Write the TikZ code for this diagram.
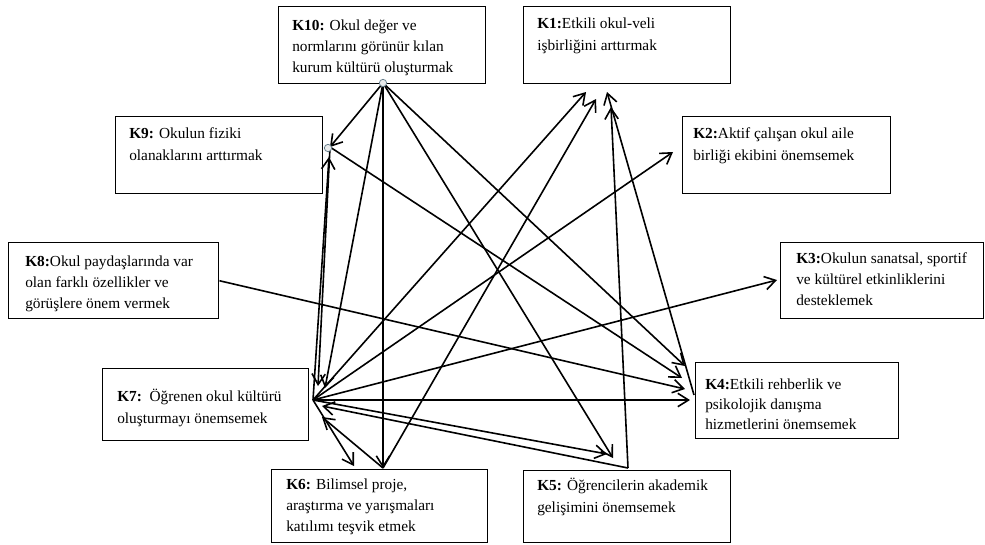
\documentclass[tikz,border=0pt]{standalone}
\usepackage{fontspec}
\setmainfont{Liberation Serif}
\usetikzlibrary{arrows.meta}
\begin{document}
\begin{tikzpicture}[x=0.75pt,y=-0.75pt,
  kbox/.style 2 args={draw, line width=1.1pt, anchor=north west, inner sep=0pt,
     minimum width=#1*0.75pt, minimum height=#2*0.75pt},
  ktext/.style={anchor=base west, align=left, inner sep=0pt, font=\fontsize{11.5}{16}\selectfont},
  con/.style={line width=1.2pt, -{Straight Barb[length=8pt,width=10pt]}},
  joint/.style={circle, draw=gray!60!cyan!70!black, fill=cyan!8!gray!18, line width=0.6pt,
     minimum size=5.5pt, inner sep=0pt}
]
\useasboundingbox (0,0) rectangle (985,544);
\fill[white] (0,0) rectangle (985,544);

% boxes
\node[kbox={207}{77}] (k10) at (278,6) {};
\node[kbox={207}{77}] (k1) at (523,6) {};
\node[kbox={207}{77}] (k9) at (115,116) {};
\node[kbox={208}{77}] (k2) at (682,116) {};
\node[kbox={210}{76}] (k8) at (8,242) {};
\node[kbox={203}{76}] (k3) at (780,242) {};
\node[kbox={206}{72}] (k7) at (102,368) {};
\node[kbox={203}{76}] (k4) at (695,362) {};
\node[kbox={216}{73}] (k6) at (271,469) {};
\node[kbox={207}{72}] (k5) at (523,470) {};

% texts (anchor = baseline of the last line)
\node[ktext] (k10t) at (292,72.7) {\textbf{K10:} Okul değer ve\\normlarını görünür kılan\\kurum kültürü oluşturmak};
\node[ktext] (k1t) at (537,50.3) {\textbf{K1:}Etkili okul-veli\\işbirliğini arttırmak};
\node[ktext] (k9t) at (129,160.3) {\textbf{K9:} Okulun fiziki\\olanaklarını arttırmak};
\node[ktext] (k2t) at (693,160.3) {\textbf{K2:}Aktif çalışan okul aile\\birliği ekibini önemsemek};
\node[ktext] (k8t) at (25,308.7) {\textbf{K8:}Okul paydaşlarında var\\olan farklı özellikler ve\\görüşlere önem vermek};
\node[ktext] (k3t) at (796,305.7) {\textbf{K3:}Okulun sanatsal, sportif\\ve kültürel etkinliklerini\\desteklemek};
\node[ktext] (k7t) at (117,423.3) {\textbf{K7:}\ \ Öğrenen okul kültürü\\oluşturmayı önemsemek};
\node[ktext, font=\fontsize{11.5}{15}\selectfont] (k4t) at (705,429) {\textbf{K4:}Etkili rehberlik ve\\psikolojik danışma\\hizmetlerini önemsemek};
\node[ktext] (k6t) at (286,531.7) {\textbf{K6:} Bilimsel proje,\\araştırma ve yarışmaları\\katılımı teşvik etmek};
\node[ktext] (k5t) at (537,512.3) {\textbf{K5:} Öğrencilerin akademik\\gelişimini önemsemek};

% junction points
\coordinate (c10a) at (383,83);
\coordinate (c9a) at (330,147);
\coordinate (h7) at (313,400);
\coordinate (h6) at (383,468);
\coordinate (h5) at (628,468);
\coordinate (s4) at (694,395);

% arrow tips
\coordinate (t7a) at (325,388);
\coordinate (t5a) at (613,458);
\coordinate (t4a) at (685,366);
\coordinate (t4b) at (682,378);
\coordinate (t7b) at (318,386);
\coordinate (t9) at (329,157);
\coordinate (t4c) at (685,389);
\coordinate (t1a) at (586,92);
\coordinate (t1b) at (596,99);
\coordinate (t1c) at (611,107);
\coordinate (t1d) at (607,92);
\coordinate (t2) at (673,152);
\coordinate (t3) at (777,280);
\coordinate (t4d) at (690,400);
\coordinate (t5b) at (607,454);
\coordinate (t7c) at (322,406);
\coordinate (t6b) at (354,466);
\coordinate (t7d) at (322,417);

% connectors
\draw[con] (c10a) -- (c9a);
\draw[con] (c10a) -- (h6);
\draw[con] (c10a) -- (t7a);
\draw[con] (c10a) -- (t5a);
\draw[con] (c10a) -- (t4a);
\draw[con] (c9a) -- (t4b);
\draw[con] (c9a) -- (t7b);
\draw[con] (h7) -- (t9);
\draw[con] (k8.east) -- (t4c);
\draw[con] (h7) -- (t1a);
\draw[con] (h6) -- (t1b);
\draw[con] (h5) -- (t1c);
\draw[con] (s4) -- (t1d);
\draw[con] (h7) -- (t2);
\draw[con] (h7) -- (t3);
\draw[con] (h7) -- (t4d);
\draw[con] (h7) -- (t5b);
\draw[con] (h5) -- (t7c);
\draw[con] (h7) -- (t6b);
\draw[con] (h6) -- (t7d);

% connection dots
\node[joint] (c10) at (383,83) {};
\node[joint] (c9) at (328,148) {};
\end{tikzpicture}
\end{document}
